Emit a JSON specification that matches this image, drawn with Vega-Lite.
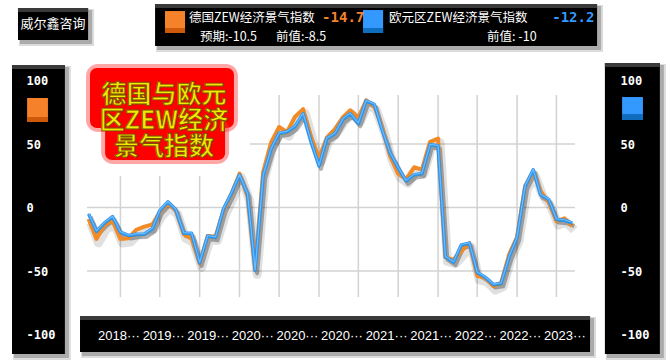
{
  "$schema": "https://vega.github.io/schema/vega-lite/v6.json",
  "width": 669,
  "height": 364,
  "autosize": "none",
  "padding": 0,
  "background": "#ffffff",
  "config": {"view": {"stroke": null}},
  "datasets": {
    "zew": [
      {"month": "2018-06-01", "germany": -9, "eurozone": -5},
      {"month": "2018-07-01", "germany": -24.7, "eurozone": -18.7},
      {"month": "2018-08-01", "germany": -13.7, "eurozone": -12.1},
      {"month": "2018-09-01", "germany": -10.6, "eurozone": -7.2},
      {"month": "2018-10-01", "germany": -24.7, "eurozone": -19.4},
      {"month": "2018-11-01", "germany": -24.1, "eurozone": -22.0},
      {"month": "2018-12-01", "germany": -17.5, "eurozone": -21.0},
      {"month": "2019-01-01", "germany": -15.0, "eurozone": -20.9},
      {"month": "2019-02-01", "germany": -13.4, "eurozone": -16.6},
      {"month": "2019-03-01", "germany": -3.6, "eurozone": -2.5},
      {"month": "2019-04-01", "germany": 3.1, "eurozone": 4.5},
      {"month": "2019-05-01", "germany": -2.1, "eurozone": -1.6},
      {"month": "2019-06-01", "germany": -21.1, "eurozone": -20.2},
      {"month": "2019-07-01", "germany": -24.5, "eurozone": -20.3},
      {"month": "2019-08-01", "germany": -44.1, "eurozone": -43.6},
      {"month": "2019-09-01", "germany": -22.5, "eurozone": -22.4},
      {"month": "2019-10-01", "germany": -22.8, "eurozone": -23.5},
      {"month": "2019-11-01", "germany": -2.1, "eurozone": -1.0},
      {"month": "2019-12-01", "germany": 10.7, "eurozone": 11.2},
      {"month": "2020-01-01", "germany": 26.7, "eurozone": 25.6},
      {"month": "2020-02-01", "germany": 8.7, "eurozone": 10.4},
      {"month": "2020-03-01", "germany": -49.5, "eurozone": -49.5},
      {"month": "2020-04-01", "germany": 28.2, "eurozone": 25.2},
      {"month": "2020-05-01", "germany": 51.0, "eurozone": 46.0},
      {"month": "2020-06-01", "germany": 63.4, "eurozone": 58.6},
      {"month": "2020-07-01", "germany": 59.3, "eurozone": 59.6},
      {"month": "2020-08-01", "germany": 71.5, "eurozone": 64.0},
      {"month": "2020-09-01", "germany": 77.4, "eurozone": 73.9},
      {"month": "2020-10-01", "germany": 56.1, "eurozone": 52.3},
      {"month": "2020-11-01", "germany": 39.0, "eurozone": 32.8},
      {"month": "2020-12-01", "germany": 55.0, "eurozone": 54.4},
      {"month": "2021-01-01", "germany": 61.8, "eurozone": 58.3},
      {"month": "2021-02-01", "germany": 71.2, "eurozone": 69.6},
      {"month": "2021-03-01", "germany": 76.6, "eurozone": 74.0},
      {"month": "2021-04-01", "germany": 70.7, "eurozone": 66.3},
      {"month": "2021-05-01", "germany": 84.4, "eurozone": 84.0},
      {"month": "2021-06-01", "germany": 79.8, "eurozone": 81.3},
      {"month": "2021-07-01", "germany": 63.3, "eurozone": 61.2},
      {"month": "2021-08-01", "germany": 40.4, "eurozone": 42.7},
      {"month": "2021-09-01", "germany": 26.5, "eurozone": 31.1},
      {"month": "2021-10-01", "germany": 22.3, "eurozone": 21.0},
      {"month": "2021-11-01", "germany": 31.7, "eurozone": 25.9},
      {"month": "2021-12-01", "germany": 29.9, "eurozone": 26.8},
      {"month": "2022-01-01", "germany": 51.7, "eurozone": 49.4},
      {"month": "2022-02-01", "germany": 54.3, "eurozone": 48.6},
      {"month": "2022-03-01", "germany": -39.3, "eurozone": -38.7},
      {"month": "2022-04-01", "germany": -41.0, "eurozone": -43.0},
      {"month": "2022-05-01", "germany": -34.3, "eurozone": -29.5},
      {"month": "2022-06-01", "germany": -28.0, "eurozone": -28.0},
      {"month": "2022-07-01", "germany": -53.8, "eurozone": -51.1},
      {"month": "2022-08-01", "germany": -55.3, "eurozone": -54.9},
      {"month": "2022-09-01", "germany": -61.9, "eurozone": -60.7},
      {"month": "2022-10-01", "germany": -59.2, "eurozone": -59.7},
      {"month": "2022-11-01", "germany": -36.7, "eurozone": -38.7},
      {"month": "2022-12-01", "germany": -23.3, "eurozone": -23.6},
      {"month": "2023-01-01", "germany": 16.9, "eurozone": 16.7},
      {"month": "2023-02-01", "germany": 28.1, "eurozone": 29.7},
      {"month": "2023-03-01", "germany": 13.0, "eurozone": 10.0},
      {"month": "2023-04-01", "germany": 4.1, "eurozone": 6.4},
      {"month": "2023-05-01", "germany": -10.7, "eurozone": -9.4},
      {"month": "2023-06-01", "germany": -8.5, "eurozone": -10.0},
      {"month": "2023-07-01", "germany": -14.7, "eurozone": -12.2}
    ],
    "vgrid": [
      {"month": "2018-10-01"}, {"month": "2019-03-01"}, {"month": "2019-08-01"},
      {"month": "2020-01-01"}, {"month": "2020-06-01"}, {"month": "2020-11-01"},
      {"month": "2021-04-01"}, {"month": "2021-09-01"}, {"month": "2022-02-01"},
      {"month": "2022-07-01"}, {"month": "2022-12-01"}, {"month": "2023-05-01"}
    ],
    "hgrid": [{"level": 50}, {"level": 0}, {"level": -50}],
    "xlabels": [
      {"tick": 1, "label": "2018···"}, {"tick": 2, "label": "2019···"},
      {"tick": 3, "label": "2019···"}, {"tick": 4, "label": "2020···"},
      {"tick": 5, "label": "2020···"}, {"tick": 6, "label": "2020···"},
      {"tick": 7, "label": "2021···"}, {"tick": 8, "label": "2021···"},
      {"tick": 9, "label": "2022···"}, {"tick": 10, "label": "2022···"},
      {"tick": 11, "label": "2023···"}
    ],
    "one": [{}]
  },
  "layer": [
    {
      "data": {"name": "one"},
      "layer": [
        {
          "encoding": {
            "x": {"datum": {"year": 2017, "month": 6, "date": 95, "utc": true}, "type": "temporal", "scale": {"domain": [{"year": 2017, "month": 6, "date": 26, "utc": true}, {"year": 2017, "month": 6, "date": 2593, "utc": true}]}, "axis": null},
            "x2": {"datum": {"year": 2017, "month": 6, "date": 364, "utc": true}},
            "y": {"datum": 157.1, "scale": {"domain": [-123.2, 163.4], "nice": false, "zero": false}, "axis": null},
            "y2": {"datum": 131.9}
          },
          "layer": [
            {"mark": {"type": "rect", "color": "#9a9a9a", "opacity": 0.35, "xOffset": 1, "x2Offset": 6, "yOffset": 1, "y2Offset": 6}},
            {"mark": {"type": "rect", "color": "#8a8a8a", "opacity": 0.6, "xOffset": 2, "x2Offset": 4, "yOffset": 2, "y2Offset": 4}},
            {"mark": {"type": "rect", "color": "#000000"}},
            {"mark": {"type": "rect", "color": "#3a3a3a"}, "encoding": {"y2": {"datum": 153.9}}}
          ]
        },
        {
          "encoding": {
            "x": {"datum": {"year": 2017, "month": 6, "date": 621, "utc": true}, "type": "temporal", "scale": {"domain": [{"year": 2017, "month": 6, "date": 26, "utc": true}, {"year": 2017, "month": 6, "date": 2593, "utc": true}]}, "axis": null},
            "x2": {"datum": {"year": 2017, "month": 6, "date": 2317, "utc": true}},
            "y": {"datum": 160.2, "scale": {"domain": [-123.2, 163.4], "nice": false, "zero": false}, "axis": null},
            "y2": {"datum": 127.2}
          },
          "layer": [
            {"mark": {"type": "rect", "color": "#9a9a9a", "opacity": 0.35, "xOffset": 1, "x2Offset": 6, "yOffset": 1, "y2Offset": 6}},
            {"mark": {"type": "rect", "color": "#8a8a8a", "opacity": 0.6, "xOffset": 2, "x2Offset": 4, "yOffset": 2, "y2Offset": 4}},
            {"mark": {"type": "rect", "color": "#000000"}},
            {"mark": {"type": "rect", "color": "#3a3a3a"}, "encoding": {"y2": {"datum": 157.1}}}
          ]
        },
        {
          "encoding": {
            "x": {"datum": {"year": 2017, "month": 6, "date": 72, "utc": true}, "type": "temporal", "scale": {"domain": [{"year": 2017, "month": 6, "date": 26, "utc": true}, {"year": 2017, "month": 6, "date": 2593, "utc": true}]}, "axis": null},
            "x2": {"datum": {"year": 2017, "month": 6, "date": 275, "utc": true}},
            "y": {"datum": 112.2, "scale": {"domain": [-123.2, 163.4], "nice": false, "zero": false}, "axis": null},
            "y2": {"datum": -115.4}
          },
          "layer": [
            {"mark": {"type": "rect", "color": "#9a9a9a", "opacity": 0.35, "xOffset": 1, "x2Offset": 6, "yOffset": 1, "y2Offset": 6}},
            {"mark": {"type": "rect", "color": "#8a8a8a", "opacity": 0.6, "xOffset": 2, "x2Offset": 4, "yOffset": 2, "y2Offset": 4}},
            {"mark": {"type": "rect", "color": "#000000"}},
            {"mark": {"type": "rect", "color": "#3a3a3a"}, "encoding": {"y2": {"datum": 109.1}}}
          ]
        },
        {
          "encoding": {
            "x": {"datum": {"year": 2017, "month": 6, "date": 2347, "utc": true}, "type": "temporal", "scale": {"domain": [{"year": 2017, "month": 6, "date": 26, "utc": true}, {"year": 2017, "month": 6, "date": 2593, "utc": true}]}, "axis": null},
            "x2": {"datum": {"year": 2017, "month": 6, "date": 2558, "utc": true}},
            "y": {"datum": 113.8, "scale": {"domain": [-123.2, 163.4], "nice": false, "zero": false}, "axis": null},
            "y2": {"datum": -115.4}
          },
          "layer": [
            {"mark": {"type": "rect", "color": "#9a9a9a", "opacity": 0.35, "xOffset": 1, "x2Offset": 6, "yOffset": 1, "y2Offset": 6}},
            {"mark": {"type": "rect", "color": "#8a8a8a", "opacity": 0.6, "xOffset": 2, "x2Offset": 4, "yOffset": 2, "y2Offset": 4}},
            {"mark": {"type": "rect", "color": "#000000"}},
            {"mark": {"type": "rect", "color": "#3a3a3a"}, "encoding": {"y2": {"datum": 110.6}}}
          ]
        },
        {
          "encoding": {
            "x": {"datum": {"year": 2017, "month": 6, "date": 333, "utc": true}, "type": "temporal", "scale": {"domain": [{"year": 2017, "month": 6, "date": 26, "utc": true}, {"year": 2017, "month": 6, "date": 2593, "utc": true}]}, "axis": null},
            "x2": {"datum": {"year": 2017, "month": 6, "date": 2290, "utc": true}},
            "y": {"datum": -85.4, "scale": {"domain": [-123.2, 163.4], "nice": false, "zero": false}, "axis": null},
            "y2": {"datum": -113.8}
          },
          "layer": [
            {"mark": {"type": "rect", "color": "#9a9a9a", "opacity": 0.35, "xOffset": 1, "x2Offset": 6, "yOffset": 1, "y2Offset": 6}},
            {"mark": {"type": "rect", "color": "#8a8a8a", "opacity": 0.6, "xOffset": 2, "x2Offset": 4, "yOffset": 2, "y2Offset": 4}},
            {"mark": {"type": "rect", "color": "#000000"}},
            {"mark": {"type": "rect", "color": "#3a3a3a"}, "encoding": {"y2": {"datum": -88.6}}}
          ]
        },
        {
          "encoding": {
            "x": {"datum": {"year": 2017, "month": 6, "date": 659, "utc": true}, "type": "temporal", "scale": {"domain": [{"year": 2017, "month": 6, "date": 26, "utc": true}, {"year": 2017, "month": 6, "date": 2593, "utc": true}]}, "axis": null},
            "x2": {"datum": {"year": 2017, "month": 6, "date": 736, "utc": true}},
            "y": {"datum": 154.7, "scale": {"domain": [-123.2, 163.4], "nice": false, "zero": false}, "axis": null},
            "y2": {"datum": 137.4}
          },
          "layer": [
            {"mark": {"type": "rect", "color": "#F5822A"}},
            {"mark": {"type": "rect", "color": "#CC5A0A"}, "encoding": {"y": {"datum": 141.3, "scale": {"domain": [-123.2, 163.4], "nice": false, "zero": false}, "axis": null}}}
          ]
        },
        {
          "encoding": {
            "x": {"datum": {"year": 2017, "month": 6, "date": 1419, "utc": true}, "type": "temporal", "scale": {"domain": [{"year": 2017, "month": 6, "date": 26, "utc": true}, {"year": 2017, "month": 6, "date": 2593, "utc": true}]}, "axis": null},
            "x2": {"datum": {"year": 2017, "month": 6, "date": 1496, "utc": true}},
            "y": {"datum": 155.5, "scale": {"domain": [-123.2, 163.4], "nice": false, "zero": false}, "axis": null},
            "y2": {"datum": 137.4}
          },
          "layer": [
            {"mark": {"type": "rect", "color": "#3399FF"}},
            {"mark": {"type": "rect", "color": "#0F6CBF"}, "encoding": {"y": {"datum": 141.3, "scale": {"domain": [-123.2, 163.4], "nice": false, "zero": false}, "axis": null}}}
          ]
        },
        {
          "encoding": {
            "x": {"datum": {"year": 2017, "month": 6, "date": 130, "utc": true}, "type": "temporal", "scale": {"domain": [{"year": 2017, "month": 6, "date": 26, "utc": true}, {"year": 2017, "month": 6, "date": 2593, "utc": true}]}, "axis": null},
            "x2": {"datum": {"year": 2017, "month": 6, "date": 210, "utc": true}},
            "y": {"datum": 86.2, "scale": {"domain": [-123.2, 163.4], "nice": false, "zero": false}, "axis": null},
            "y2": {"datum": 67.3}
          },
          "layer": [
            {"mark": {"type": "rect", "color": "#F5822A"}},
            {"mark": {"type": "rect", "color": "#CC5A0A"}, "encoding": {"y": {"datum": 71.3, "scale": {"domain": [-123.2, 163.4], "nice": false, "zero": false}, "axis": null}}}
          ]
        },
        {
          "encoding": {
            "x": {"datum": {"year": 2017, "month": 6, "date": 2413, "utc": true}, "type": "temporal", "scale": {"domain": [{"year": 2017, "month": 6, "date": 26, "utc": true}, {"year": 2017, "month": 6, "date": 2593, "utc": true}]}, "axis": null},
            "x2": {"datum": {"year": 2017, "month": 6, "date": 2493, "utc": true}},
            "y": {"datum": 87.0, "scale": {"domain": [-123.2, 163.4], "nice": false, "zero": false}, "axis": null},
            "y2": {"datum": 68.9}
          },
          "layer": [
            {"mark": {"type": "rect", "color": "#3399FF"}},
            {"mark": {"type": "rect", "color": "#0F6CBF"}, "encoding": {"y": {"datum": 73.6, "scale": {"domain": [-123.2, 163.4], "nice": false, "zero": false}, "axis": null}}}
          ]
        },
        {
          "data": {"name": "vgrid"},
          "mark": {"type": "rule", "color": "#d2d2d2", "strokeWidth": 1.5},
          "encoding": {
            "x": {"field": "month", "type": "temporal", "scale": {"domain": [{"year": 2017, "month": 6, "date": 26, "utc": true}, {"year": 2017, "month": 6, "date": 2593, "utc": true}]}, "axis": null},
            "y": {"datum": 88.6, "scale": {"domain": [-123.2, 163.4], "nice": false, "zero": false}, "axis": null},
            "y2": {"datum": -70.5}
          }
        },
        {
          "data": {"name": "hgrid"},
          "mark": {"type": "rule", "color": "#d2d2d2", "strokeWidth": 1.5},
          "encoding": {
            "x": {"datum": {"year": 2017, "month": 6, "date": 360, "utc": true}, "type": "temporal", "scale": {"domain": [{"year": 2017, "month": 6, "date": 26, "utc": true}, {"year": 2017, "month": 6, "date": 2593, "utc": true}]}, "axis": null},
            "x2": {"datum": {"year": 2017, "month": 6, "date": 2232, "utc": true}},
            "y": {"field": "level", "type": "quantitative", "scale": {"domain": [-123.2, 163.4], "nice": false, "zero": false}, "axis": null}
          }
        },
        {
          "mark": {"type": "rect", "color": "#ffffff"},
          "encoding": {
            "x": {"datum": {"year": 2017, "month": 6, "date": 352, "utc": true}, "type": "temporal", "scale": {"domain": [{"year": 2017, "month": 6, "date": 26, "utc": true}, {"year": 2017, "month": 6, "date": 2593, "utc": true}]}, "axis": null},
            "x2": {"datum": {"year": 2017, "month": 6, "date": 985, "utc": true}},
            "y": {"datum": 116.1, "scale": {"domain": [-123.2, 163.4], "nice": false, "zero": false}, "axis": null},
            "y2": {"datum": 24.8}
          }
        },
        {
          "data": {"name": "zew"},
          "encoding": {
            "x": {"field": "month", "type": "temporal", "scale": {"domain": [{"year": 2017, "month": 6, "date": 26, "utc": true}, {"year": 2017, "month": 6, "date": 2593, "utc": true}]}, "axis": null}
          },
          "layer": [
            {"mark": {"type": "line", "color": "#000000", "opacity": 0.12, "strokeWidth": 9, "xOffset": 2, "yOffset": 4, "strokeJoin": "round"}, "encoding": {"y": {"field": "germany", "type": "quantitative", "scale": {"domain": [-123.2, 163.4], "nice": false, "zero": false}, "axis": null}}},
            {"mark": {"type": "line", "color": "#000000", "opacity": 0.3, "strokeWidth": 4, "xOffset": 2, "yOffset": 3, "strokeJoin": "round"}, "encoding": {"y": {"field": "eurozone", "type": "quantitative", "scale": {"domain": [-123.2, 163.4], "nice": false, "zero": false}, "axis": null}}},
            {"mark": {"type": "line", "color": "#F28A26", "strokeWidth": 4, "strokeJoin": "round"}, "encoding": {"y": {"field": "germany", "type": "quantitative", "scale": {"domain": [-123.2, 163.4], "nice": false, "zero": false}, "axis": null}}},
            {"mark": {"type": "line", "color": "#5a8a3a", "strokeWidth": 1, "xOffset": 0.5, "yOffset": 1.5, "strokeJoin": "round", "opacity": 0.7}, "encoding": {"y": {"field": "eurozone", "type": "quantitative", "scale": {"domain": [-123.2, 163.4], "nice": false, "zero": false}, "axis": null}}},
            {"mark": {"type": "line", "color": "#2F93EC", "strokeWidth": 3.5, "strokeJoin": "round"}, "encoding": {"y": {"field": "eurozone", "type": "quantitative", "scale": {"domain": [-123.2, 163.4], "nice": false, "zero": false}, "axis": null}}},
            {"mark": {"type": "line", "color": "#6BBDFF", "strokeWidth": 1.2, "yOffset": -0.5, "strokeJoin": "round"}, "encoding": {"y": {"field": "eurozone", "type": "quantitative", "scale": {"domain": [-123.2, 163.4], "nice": false, "zero": false}, "axis": null}}}
          ]
        },
        {
          "encoding": {
            "x": {"datum": {"year": 2017, "month": 6, "date": 356, "utc": true}, "type": "temporal", "scale": {"domain": [{"year": 2017, "month": 6, "date": 26, "utc": true}, {"year": 2017, "month": 6, "date": 2593, "utc": true}]}, "axis": null},
            "x2": {"datum": {"year": 2017, "month": 6, "date": 939, "utc": true}},
            "y": {"datum": 113.0, "scale": {"domain": [-123.2, 163.4], "nice": false, "zero": false}, "axis": null},
            "y2": {"datum": 59.4}
          },
          "layer": [
            {"mark": {"type": "rect", "color": "#ff3a3a", "opacity": 0.45, "cornerRadius": 12}},
            {"mark": {"type": "rect", "color": "#ff0000", "cornerRadius": 7, "xOffset": 4, "x2Offset": -4, "yOffset": 4, "y2Offset": -4}}
          ]
        },
        {
          "encoding": {
            "x": {"datum": {"year": 2017, "month": 6, "date": 414, "utc": true}, "type": "temporal", "scale": {"domain": [{"year": 2017, "month": 6, "date": 26, "utc": true}, {"year": 2017, "month": 6, "date": 2593, "utc": true}]}, "axis": null},
            "x2": {"datum": {"year": 2017, "month": 6, "date": 905, "utc": true}},
            "y": {"datum": 70.5, "scale": {"domain": [-123.2, 163.4], "nice": false, "zero": false}, "axis": null},
            "y2": {"datum": 34.3}
          },
          "layer": [
            {"mark": {"type": "rect", "color": "#ff3a3a", "opacity": 0.45, "cornerRadius": 12}},
            {"mark": {"type": "rect", "color": "#ff0000", "cornerRadius": 7, "xOffset": 4, "x2Offset": -4, "yOffset": 0, "y2Offset": -4}}
          ]
        },
        {
          "mark": {"type": "text", "font": "Noto Sans CJK SC", "fontWeight": "bold", "fontSize": 25, "lineHeight": 26, "align": "center", "baseline": "middle", "fill": "#F2EA00", "stroke": "#7a5200", "strokeWidth": 0.9},
          "encoding": {
            "x": {"datum": {"year": 2017, "month": 6, "date": 655, "utc": true}, "type": "temporal", "scale": {"domain": [{"year": 2017, "month": 6, "date": 26, "utc": true}, {"year": 2017, "month": 6, "date": 2593, "utc": true}]}, "axis": null},
            "y": {"datum": 88.6, "scale": {"domain": [-123.2, 163.4], "nice": false, "zero": false}, "axis": null},
            "text": {"value": ["德国与欧元", "区ZEW经济", "景气指数"]}
          }
        },
        {
          "mark": {"type": "text", "font": "Noto Sans CJK SC", "fontSize": 13, "align": "center", "baseline": "middle", "color": "#ffffff"},
          "encoding": {
            "x": {"datum": {"year": 2017, "month": 6, "date": 229, "utc": true}, "type": "temporal", "scale": {"domain": [{"year": 2017, "month": 6, "date": 26, "utc": true}, {"year": 2017, "month": 6, "date": 2593, "utc": true}]}, "axis": null},
            "y": {"datum": 144.5, "scale": {"domain": [-123.2, 163.4], "nice": false, "zero": false}, "axis": null},
            "text": {"value": "威尔鑫咨询"}
          }
        },
        {
          "mark": {"type": "text", "font": "Noto Sans CJK SC", "fontSize": 12.5, "align": "left", "baseline": "middle", "color": "#ffffff"},
          "encoding": {
            "x": {"datum": {"year": 2017, "month": 6, "date": 751, "utc": true}, "type": "temporal", "scale": {"domain": [{"year": 2017, "month": 6, "date": 26, "utc": true}, {"year": 2017, "month": 6, "date": 2593, "utc": true}]}, "axis": null},
            "y": {"datum": 149.2, "scale": {"domain": [-123.2, 163.4], "nice": false, "zero": false}, "axis": null},
            "text": {"value": "德国ZEW经济景气指数"}
          }
        },
        {
          "mark": {"type": "text", "font": "DejaVu Sans Mono", "fontWeight": "bold", "fontSize": 14, "align": "left", "baseline": "middle", "color": "#F5822A"},
          "encoding": {
            "x": {"datum": {"year": 2017, "month": 6, "date": 1262, "utc": true}, "type": "temporal", "scale": {"domain": [{"year": 2017, "month": 6, "date": 26, "utc": true}, {"year": 2017, "month": 6, "date": 2593, "utc": true}]}, "axis": null},
            "y": {"datum": 149.2, "scale": {"domain": [-123.2, 163.4], "nice": false, "zero": false}, "axis": null},
            "text": {"value": "-14.7"}
          }
        },
        {
          "mark": {"type": "text", "font": "Noto Sans CJK SC", "fontSize": 12.5, "align": "left", "baseline": "middle", "color": "#ffffff"},
          "encoding": {
            "x": {"datum": {"year": 2017, "month": 6, "date": 1519, "utc": true}, "type": "temporal", "scale": {"domain": [{"year": 2017, "month": 6, "date": 26, "utc": true}, {"year": 2017, "month": 6, "date": 2593, "utc": true}]}, "axis": null},
            "y": {"datum": 149.2, "scale": {"domain": [-123.2, 163.4], "nice": false, "zero": false}, "axis": null},
            "text": {"value": "欧元区ZEW经济景气指数"}
          }
        },
        {
          "mark": {"type": "text", "font": "DejaVu Sans Mono", "fontWeight": "bold", "fontSize": 14, "align": "left", "baseline": "middle", "color": "#3399FF"},
          "encoding": {
            "x": {"datum": {"year": 2017, "month": 6, "date": 2145, "utc": true}, "type": "temporal", "scale": {"domain": [{"year": 2017, "month": 6, "date": 26, "utc": true}, {"year": 2017, "month": 6, "date": 2593, "utc": true}]}, "axis": null},
            "y": {"datum": 149.2, "scale": {"domain": [-123.2, 163.4], "nice": false, "zero": false}, "axis": null},
            "text": {"value": "-12.2"}
          }
        },
        {
          "mark": {"type": "text", "font": "Noto Sans CJK SC", "fontSize": 12.5, "align": "left", "baseline": "middle", "color": "#ffffff"},
          "encoding": {
            "x": {"datum": {"year": 2017, "month": 6, "date": 793, "utc": true}, "type": "temporal", "scale": {"domain": [{"year": 2017, "month": 6, "date": 26, "utc": true}, {"year": 2017, "month": 6, "date": 2593, "utc": true}]}, "axis": null},
            "y": {"datum": 134.2, "scale": {"domain": [-123.2, 163.4], "nice": false, "zero": false}, "axis": null},
            "text": {"value": "预期:-10.5"}
          }
        },
        {
          "mark": {"type": "text", "font": "Noto Sans CJK SC", "fontSize": 12.5, "align": "left", "baseline": "middle", "color": "#ffffff"},
          "encoding": {
            "x": {"datum": {"year": 2017, "month": 6, "date": 1085, "utc": true}, "type": "temporal", "scale": {"domain": [{"year": 2017, "month": 6, "date": 26, "utc": true}, {"year": 2017, "month": 6, "date": 2593, "utc": true}]}, "axis": null},
            "y": {"datum": 134.2, "scale": {"domain": [-123.2, 163.4], "nice": false, "zero": false}, "axis": null},
            "text": {"value": "前值:-8.5"}
          }
        },
        {
          "mark": {"type": "text", "font": "Noto Sans CJK SC", "fontSize": 12.5, "align": "left", "baseline": "middle", "color": "#ffffff"},
          "encoding": {
            "x": {"datum": {"year": 2017, "month": 6, "date": 1895, "utc": true}, "type": "temporal", "scale": {"domain": [{"year": 2017, "month": 6, "date": 26, "utc": true}, {"year": 2017, "month": 6, "date": 2593, "utc": true}]}, "axis": null},
            "y": {"datum": 134.2, "scale": {"domain": [-123.2, 163.4], "nice": false, "zero": false}, "axis": null},
            "text": {"value": "前值: -10"}
          }
        }
      ]
    },
    {
      "data": {"name": "one"},
      "mark": {"type": "rule", "strokeOpacity": 0},
      "encoding": {
        "y": {"datum": 0, "scale": {"domain": [-123.2, 163.4], "nice": false, "zero": false},
          "axis": {"orient": "left", "offset": -26, "values": [100, 50, 0, -50, -100], "labelExpr": "datum.value + ''", "ticks": false, "domain": false, "grid": false, "title": null, "labelPadding": 0, "labelAlign": "left", "labelColor": "#ffffff", "labelFont": "DejaVu Sans Mono", "labelFontWeight": "bold", "labelFontSize": 12, "zindex": 2}}
      }
    },
    {
      "data": {"name": "one"},
      "mark": {"type": "rule", "strokeOpacity": 0},
      "encoding": {
        "y": {"datum": 0, "scale": {"domain": [-123.2, 163.4], "nice": false, "zero": false},
          "axis": {"orient": "right", "offset": -49, "values": [100, 50, 0, -50, -100], "labelExpr": "datum.value + ''", "ticks": false, "domain": false, "grid": false, "title": null, "labelPadding": 0, "labelAlign": "left", "labelColor": "#ffffff", "labelFont": "DejaVu Sans Mono", "labelFontWeight": "bold", "labelFontSize": 12, "zindex": 2}}
      }
    },
    {
      "data": {"name": "xlabels"},
      "mark": {"type": "text", "font": "Liberation Sans", "fontSize": 13, "align": "center", "baseline": "middle", "color": "#ffffff"},
      "encoding": {
        "x": {"field": "tick", "type": "quantitative", "scale": {"domain": [-1.668, 13.332], "nice": false, "zero": false}, "axis": null},
        "y": {"datum": -101.2, "scale": {"domain": [-123.2, 163.4], "nice": false, "zero": false}, "axis": null},
        "text": {"field": "label"}
      }
    }
  ],
  "resolve": {"scale": {"x": "independent", "y": "independent"}}
}
